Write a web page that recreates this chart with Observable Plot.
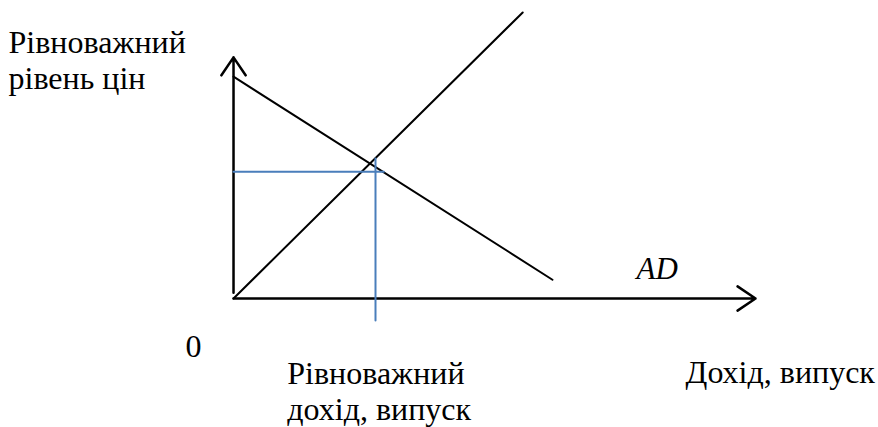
<!DOCTYPE html>
<html>
<head>
<meta charset="utf-8">
<script src="https://cdn.jsdelivr.net/npm/d3@7"></script>
<script src="https://cdn.jsdelivr.net/npm/@observablehq/plot@0.6"></script>
<style>
  html, body { margin: 0; padding: 0; background: #fff; }
  #chart svg { display: block; }
</style>
</head>
<body>
<div id="chart"></div>
<script>
// ---- data (abstract units, origin at 0,0) ----
const asX = [0, 5.54];          // 45-degree line
const asY = [0, 5.48];
const adX = [0, 6.11];          // aggregate demand AD
const adY = [4.25, 0.36];
const eqIncome = 2.72;          // equilibrium income / output
const eqPrice = 2.43;           // equilibrium price level
const eqHLineX = [0, 2.88];     // horizontal guide extent
const eqVLineY = [2.68, -0.42]; // vertical guide extent
const xAxisX = [0, 10];
const yAxisY = [0.11, 4.62];

const labels = [
  {x: -4.31, y: 4.02, text: "Рівноважний\nрівень цін"},
  {x: -0.92, y: -1.13, text: "0"},
  {x: 1.03, y: -2.32, text: "Рівноважний\nдохід, випуск"},
  {x: 8.66, y: -1.61, text: "Дохід, випуск"}
];
const italicLabels = [{x: 7.72, y: 0.38, text: "AD"}];

const pts = (xs, ys) => xs.map((x, i) => ({x, y: ys[i]}));
const blue = "#4a7ebb";
const serif = "Liberation Serif";

const chart = Plot.plot({
  width: 878,
  height: 427,
  margin: 0,
  style: {background: "#fff"},
  x: {domain: [-4.464, 12.356], axis: null},
  y: {domain: [-2.471, 5.709], axis: null},
  marks: [
    Plot.arrow([{x1: 0, y1: 0, x2: xAxisX[1], y2: 0}], {
      x1: "x1", y1: "y1", x2: "x2", y2: "y2",
      stroke: "#000", strokeWidth: 2.5, headLength: 13, headAngle: 68
    }),
    Plot.arrow([{x1: 0, y1: yAxisY[0], x2: 0, y2: yAxisY[1]}], {
      x1: "x1", y1: "y1", x2: "x2", y2: "y2",
      stroke: "#000", strokeWidth: 2.5, headLength: 13, headAngle: 68
    }),
    Plot.line(pts(asX, asY), {x: "x", y: "y", stroke: "#000", strokeWidth: 2}),
    Plot.line(pts(adX, adY), {x: "x", y: "y", stroke: "#000", strokeWidth: 2}),
    Plot.line(pts(eqHLineX, [eqPrice, eqPrice]), {x: "x", y: "y", stroke: blue, strokeWidth: 2}),
    Plot.line(pts([eqIncome, eqIncome], eqVLineY), {x: "x", y: "y", stroke: blue, strokeWidth: 2}),
    Plot.text(labels, {
      x: "x", y: "y", text: "text",
      textAnchor: "start", lineAnchor: "bottom", lineHeight: 1.125,
      fontSize: 32, fontFamily: serif, fill: "#000"
    }),
    Plot.text(italicLabels, {
      x: "x", y: "y", text: "text",
      textAnchor: "start", lineAnchor: "bottom",
      fontSize: 31, fontFamily: serif, fontStyle: "italic", fill: "#000"
    })
  ]
});
document.getElementById("chart").append(chart);
</script>
</body>
</html>
